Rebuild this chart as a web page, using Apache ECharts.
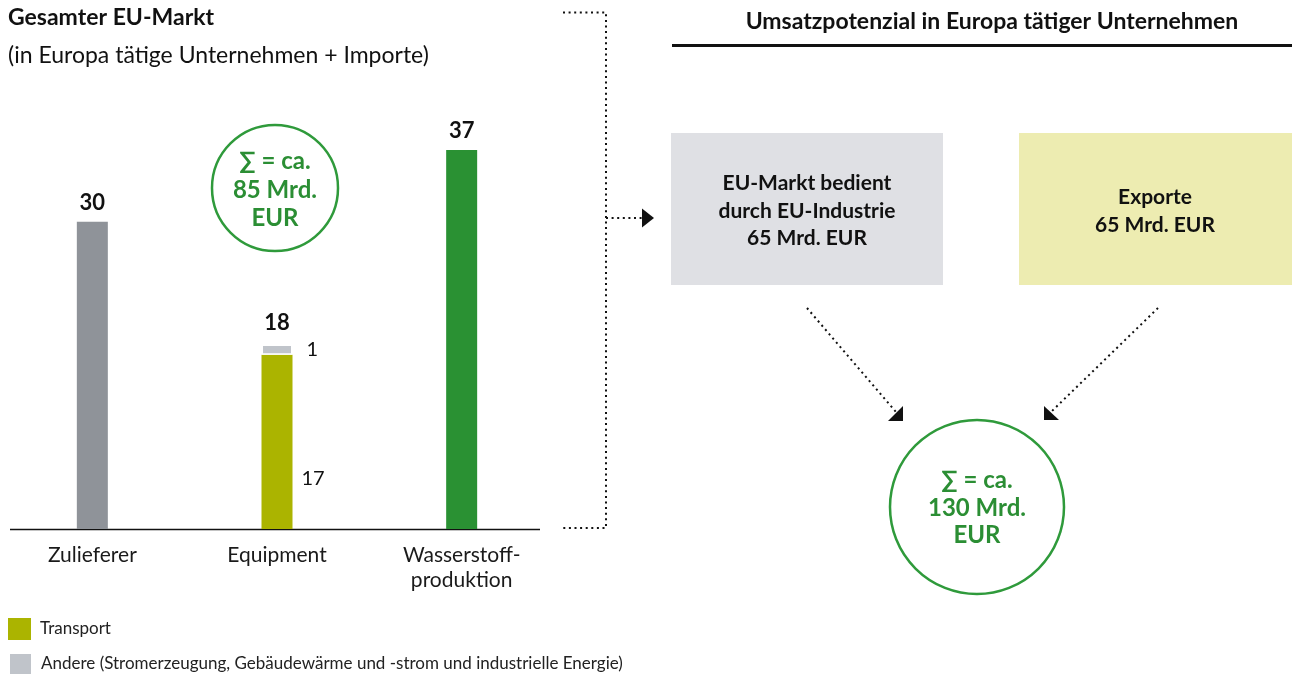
<!DOCTYPE html>
<html>
<head>
<meta charset="utf-8">
<script src="https://cdn.jsdelivr.net/npm/echarts@6/dist/echarts.min.js"></script>
<style>
  html, body { margin: 0; padding: 0; background: #fff; }
  #chart { width: 1297px; height: 675px; }
</style>
</head>
<body>
<div id="chart"></div>
<script>
// Marktvolumen in Mrd. EUR
const categories = ['Zulieferer', 'Equipment', 'Wasserstoff-\nproduktion'];
const singleValues = [30, null, 37];          // Segmente ohne Aufteilung
const transportValues = [null, 17, null];     // Equipment: Transport
const andereValues = [null, 1, null];         // Equipment: Andere
const exportValue = 65;                       // Exporte
const euIndustryValue = 65;                   // EU-Markt bedient durch EU-Industrie

const transportName = 'Transport';
const andereName = 'Andere (Stromerzeugung, Gebäudewärme und -strom und industrielle Energie)';

const FONT = 'Lato';
const GREEN_TEXT = '#2b8e34';
const GREEN_LINE = '#2f9a3b';
const singleColors = ['#8f9399', null, '#2a9133'];

const stackTotal = categories.map((_, i) =>
  (singleValues[i] || 0) + (transportValues[i] || 0) + (andereValues[i] || 0));
const marketTotal = stackTotal.reduce((a, b) => a + b, 0);
const potentialTotal = euIndustryValue + exportValue;

const toData = arr => arr.map(v => (v === null ? '-' : v));

const chart = echarts.init(document.getElementById('chart'));

const dotted = { stroke: '#111', lineWidth: 2, lineDash: [2, 3.6], fill: null };
const legendBase = {
  left: 8, itemWidth: 23, itemHeight: 22, icon: 'rect', padding: 0,
  textStyle: { fontFamily: FONT, fontSize: 17, color: '#222', padding: [0, 0, 0, 4] }
};

chart.setOption({
  animation: false,
  textStyle: { fontFamily: FONT },
  grid: { left: -4, width: 558, top: 150, bottom: 146 },
  xAxis: {
    type: 'category',
    data: categories,
    axisLine: { show: false },
    axisTick: { show: false },
    axisLabel: { fontFamily: FONT, fontSize: 21, color: '#1a1a1a', margin: 14, lineHeight: 25 }
  },
  yAxis: { type: 'value', min: 0, max: 37, show: false, splitLine: { show: false } },
  legend: [
    Object.assign({ data: [transportName], top: 618 }, legendBase),
    Object.assign({ data: [andereName], top: 652 }, legendBase)
  ],
  series: [
    {
      name: 'Gesamt',
      type: 'bar',
      stack: 'markt',
      barWidth: 31,
      data: singleValues.map((v, i) => (v === null ? '-' :
        { value: v, itemStyle: { color: singleColors[i] } })),
      label: { show: true, position: 'top', distance: 8, fontFamily: FONT, fontSize: 22, fontWeight: 'bold', color: '#111' }
    },
    {
      name: transportName,
      type: 'bar',
      stack: 'markt',
      barWidth: 31,
      itemStyle: { color: '#abb400' },
      data: toData(transportValues),
      label: { show: true, position: [40, 124], align: 'left', verticalAlign: 'middle', fontFamily: FONT, fontSize: 20, color: '#111' }
    },
    {
      name: andereName,
      type: 'bar',
      stack: 'markt',
      barWidth: 31,
      itemStyle: { color: '#c0c4ca', borderColor: '#fff', borderWidth: 1.5 },
      data: toData(andereValues),
      label: { show: true, position: 'right', distance: 14, fontFamily: FONT, fontSize: 20, color: '#111' }
    },
    {
      name: 'Summe',
      type: 'bar',
      stack: 'markt',
      barWidth: 31,
      itemStyle: { color: 'transparent' },
      data: transportValues.map(v => (v === null ? '-' : 0)),
      label: {
        show: true, position: 'top', distance: 11, fontFamily: FONT, fontSize: 22, fontWeight: 'bold', color: '#111',
        formatter: p => String(stackTotal[p.dataIndex])
      }
    }
  ],
  graphic: [
    // Titel links
    { type: 'text', left: 8, top: 6, style: { text: 'Gesamter EU-Markt', font: `bold 23px ${FONT}`, fill: '#111' } },
    { type: 'text', left: 8, top: 44, style: { text: '(in Europa tätige Unternehmen + Importe)', font: `23px ${FONT}`, fill: '#111' } },
    // Grundlinie
    { type: 'line', shape: { x1: 10, y1: 529.5, x2: 540, y2: 529.5 }, style: { stroke: '#111', lineWidth: 1.5 } },
    // Summenkreis links
    { type: 'circle', shape: { cx: 275, cy: 188, r: 63 }, style: { stroke: GREEN_LINE, lineWidth: 2.5, fill: '#fff' } },
    { type: 'text', x: 275, y: 190, style: {
      text: `∑ = ca.\n${marketTotal} Mrd.\nEUR`, font: `bold 24px ${FONT}`, fill: GREEN_TEXT,
      align: 'center', verticalAlign: 'middle', lineHeight: 28.5 } },
    // Klammer und Pfeil
    { type: 'polyline', shape: { points: [[563, 12.5], [606, 12.5], [606, 528], [563, 528]] }, style: dotted },
    { type: 'line', shape: { x1: 606, y1: 218, x2: 643, y2: 218 }, style: dotted },
    { type: 'polygon', shape: { points: [[642, 208.5], [654, 218], [642, 227.5]] }, style: { fill: '#111' } },
    // Titel rechts
    { type: 'text', x: 992, y: 22, style: {
      text: 'Umsatzpotenzial in Europa tätiger Unternehmen', font: `bold 23px ${FONT}`, fill: '#111',
      align: 'center', verticalAlign: 'middle' } },
    { type: 'rect', shape: { x: 672, y: 44, width: 620, height: 3 }, style: { fill: '#111' } },
    // Kästen
    { type: 'rect', shape: { x: 671, y: 133, width: 272, height: 152 }, style: { fill: '#dfe0e4' } },
    { type: 'text', x: 807, y: 211, style: {
      text: `EU-Markt bedient\ndurch EU-Industrie\n${euIndustryValue} Mrd. EUR`, font: `bold 21px ${FONT}`, fill: '#111',
      align: 'center', verticalAlign: 'middle', lineHeight: 27.5 } },
    { type: 'rect', shape: { x: 1019, y: 133, width: 273, height: 152 }, style: { fill: '#edecb1' } },
    { type: 'text', x: 1155, y: 211, style: {
      text: `Exporte\n${exportValue} Mrd. EUR`, font: `bold 21px ${FONT}`, fill: '#111',
      align: 'center', verticalAlign: 'middle', lineHeight: 27.5 } },
    // Pfeile zum Summenkreis
    { type: 'line', shape: { x1: 807, y1: 308, x2: 896, y2: 412 }, style: dotted },
    { type: 'polygon', shape: { points: [[903, 406], [903, 421], [888, 421]] }, style: { fill: '#111' } },
    { type: 'line', shape: { x1: 1158, y1: 308, x2: 1052, y2: 411 }, style: dotted },
    { type: 'polygon', shape: { points: [[1044, 406], [1044, 420], [1059, 420]] }, style: { fill: '#111' } },
    // Summenkreis rechts
    { type: 'circle', shape: { cx: 977, cy: 507, r: 87 }, style: { stroke: GREEN_LINE, lineWidth: 2.5, fill: '#fff' } },
    { type: 'text', x: 977, y: 508, style: {
      text: `∑ = ca.\n${potentialTotal} Mrd.\nEUR`, font: `bold 24px ${FONT}`, fill: GREEN_TEXT,
      align: 'center', verticalAlign: 'middle', lineHeight: 27.5 } }
  ]
});
</script>
</body>
</html>
